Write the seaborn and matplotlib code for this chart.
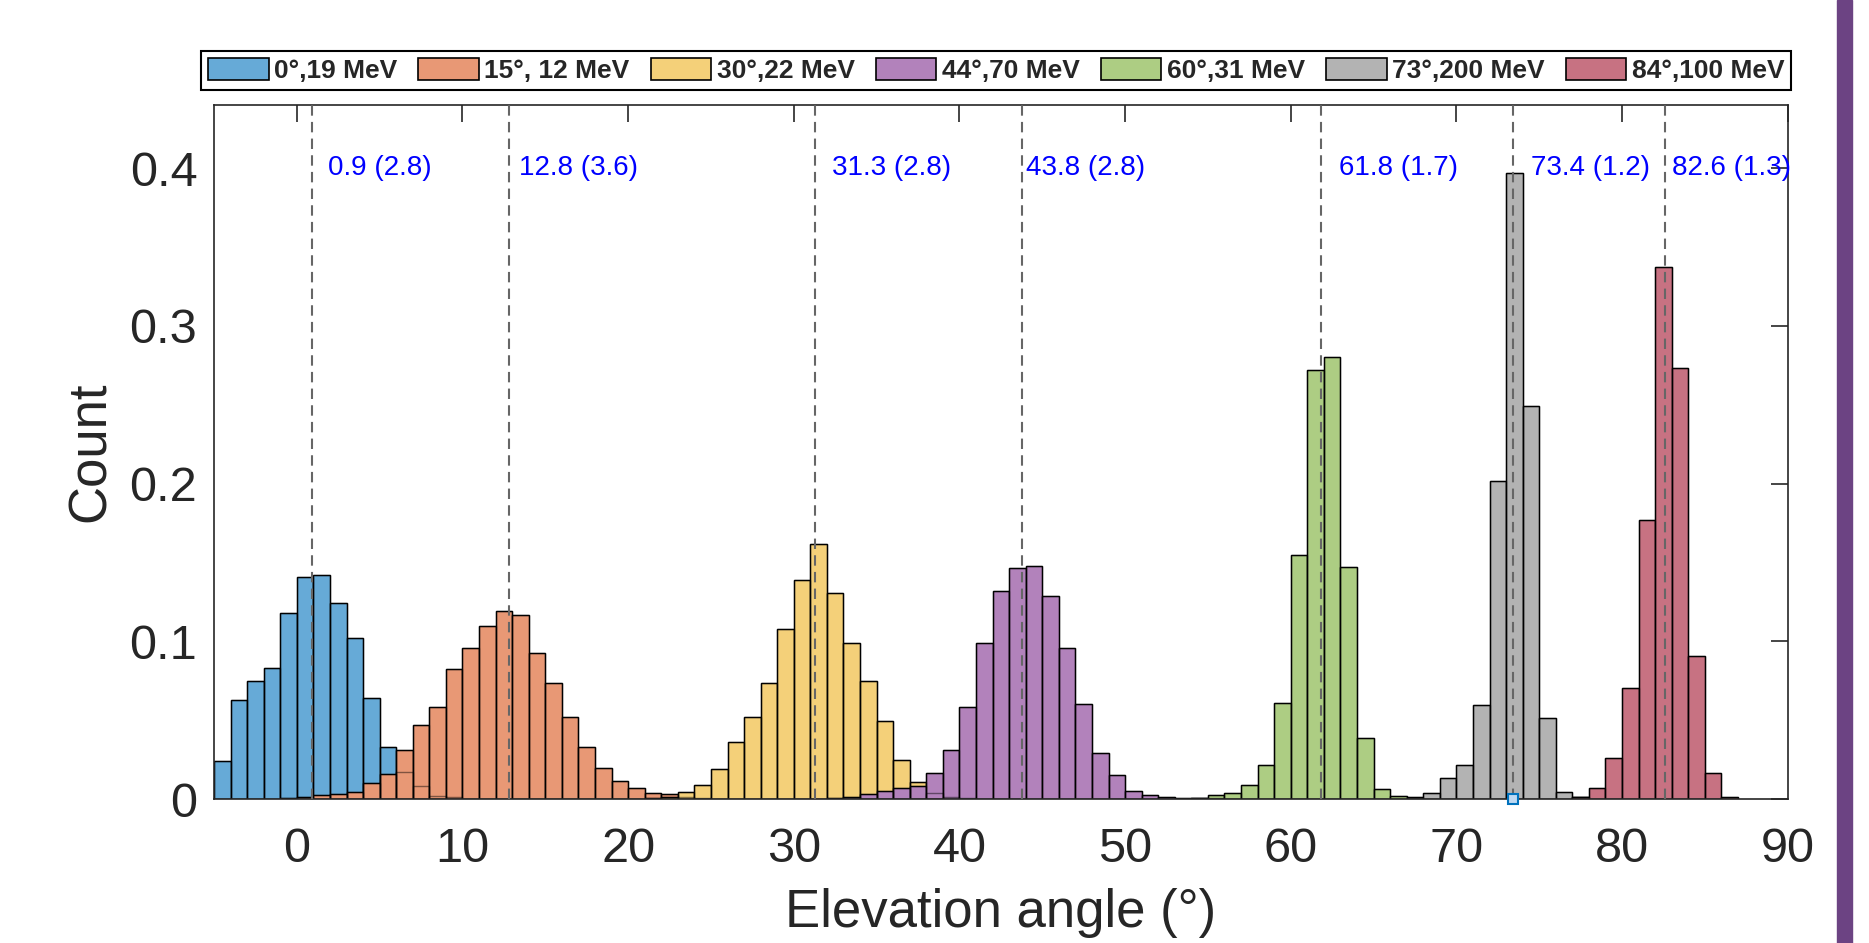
import numpy as np
import pandas as pd
import seaborn as sns
import matplotlib.pyplot as plt
from matplotlib.patches import Patch, Rectangle
from matplotlib.ticker import FuncFormatter

# bin heights (1 deg bins), first bin left edge given by *_start
blue_start = -5
blue = [0.024, 0.0625, 0.075, 0.083, 0.118, 0.141, 0.142, 0.124, 0.102, 0.064,
        0.033, 0.017, 0.008, 0.002, 0.001]
orange_start = -1
orange = [0.0005, 0.001, 0.0023, 0.003, 0.0044, 0.0099, 0.0157, 0.031, 0.047, 0.0585,
          0.0826, 0.0956, 0.1096, 0.1195, 0.1164, 0.0925, 0.0736, 0.0518, 0.0331, 0.0197,
          0.0113, 0.0067, 0.0038, 0.003, 0.0015, 0.0005]
yellow_start = 21
yellow = [0.0005, 0.0012, 0.0046, 0.0086, 0.0189, 0.036, 0.0518, 0.0738, 0.108, 0.139,
          0.1616, 0.1308, 0.0992, 0.075, 0.0497, 0.0247, 0.0105, 0.004, 0.0015, 0.0005]
purple_start = 32
purple = [0.0005, 0.0015, 0.003, 0.005, 0.0067, 0.008, 0.0166, 0.031, 0.0585, 0.0992,
          0.1317, 0.1465, 0.1474, 0.1285, 0.0956, 0.0604, 0.0293, 0.0151, 0.0052, 0.0023,
          0.001, 0.0008, 0.0006, 0.0004]
green_start = 54
green = [0.0008, 0.0023, 0.004, 0.0087, 0.0215, 0.0608, 0.1547, 0.2718, 0.28, 0.147,
         0.0384, 0.0064, 0.002, 0.0008]
gray_start = 67
gray = [0.001, 0.004, 0.013, 0.0215, 0.0593, 0.2015, 0.397, 0.249, 0.0515, 0.0047, 0.001]
red_start = 77
red = [0.001, 0.007, 0.0259, 0.0703, 0.177, 0.337, 0.273, 0.0907, 0.0166, 0.001]

legend_labels = ['0°,19 MeV', '15°, 12 MeV', '30°,22 MeV', '44°,70 MeV',
                 '60°,31 MeV', '73°,200 MeV', '84°,100 MeV']
means = [0.9, 12.8, 31.3, 43.8, 61.8, 73.4, 82.6]
stds = [2.8, 3.6, 2.8, 2.8, 1.7, 1.2, 1.3]
label_x = [1.9, 13.4, 32.3, 44.0, 62.9, 74.5, 83.0]

# matlab colours at FaceAlpha 0.6 on white
colors = ['#66aad7', '#e89875', '#f4d079', '#b282bb', '#adcd83', '#b3b3b3', '#c77282']

series = [(blue_start, blue), (orange_start, orange), (yellow_start, yellow),
          (purple_start, purple), (green_start, green), (gray_start, gray),
          (red_start, red)]

sns.set_style('white')
plt.rcParams['font.family'] = ['Liberation Sans', 'DejaVu Sans']

fig = plt.figure(figsize=(18.69, 9.43), dpi=100)
ax = fig.add_axes([0.1145, 0.1527, 0.842, 0.736])

frames = []
for (start, vals), col in zip(series, colors):
    n = len(vals)
    df = pd.DataFrame({'angle': np.arange(n) + start + 0.5, 'w': vals})
    frames.append((df, start, n))
    sns.histplot(data=df, x='angle', weights='w', binwidth=1,
                 binrange=(start, start + n), color=col, alpha=1,
                 edgecolor='black', linewidth=1.0, ax=ax)

# hidden bar outlines show faintly through the later series
for df, start, n in frames:
    sns.histplot(data=df, x='angle', weights='w', binwidth=1,
                 binrange=(start, start + n), fill=False,
                 color='black', alpha=0.45, linewidth=1.0, ax=ax)

for m, s, lx in zip(means, stds, label_x):
    ax.axvline(m, color=(0.4, 0.4, 0.4), lw=1.5, ls=(0, (5, 3)), zorder=5)
    ax.text(lx, 0.4, f'{m:.1f} ({s:.1f})', color='blue', fontsize=20,
            va='center', ha='left', zorder=6)

ax.plot([means[5]], [0], marker='s', ms=7, mfc=(0.75, 0.85, 0.95),
        mec=(0, 0.447, 0.741), mew=1.5, clip_on=False, zorder=7)

ax.set_xlim(-5, 90)
ax.set_ylim(0, 0.44)
ax.set_xticks(np.arange(0, 91, 10))
ax.set_yticks([0, 0.1, 0.2, 0.3, 0.4])
ax.yaxis.set_major_formatter(FuncFormatter(lambda v, p: '0' if v == 0 else f'{v:.1f}'))
ax.tick_params(direction='in', length=12, width=1.2, labelsize=35,
               top=True, right=True, colors=(0.15, 0.15, 0.15), pad=12)
ax.tick_params(axis='x', pad=20)
for sp in ax.spines.values():
    sp.set_linewidth(1.2)
    sp.set_color((0.15, 0.15, 0.15))
ax.set_xlabel('Elevation angle (°)', fontsize=38, color=(0.15, 0.15, 0.15), labelpad=12)
ax.set_ylabel('Count', fontsize=38, color=(0.15, 0.15, 0.15), labelpad=10)

handles = [Patch(facecolor=c, edgecolor='black', lw=1.2) for c in colors]
leg = ax.legend(handles, legend_labels, ncol=7, loc='lower center',
                bbox_to_anchor=(0.497, 1.022), borderaxespad=0,
                prop={'size': 19, 'weight': 'bold'}, frameon=True, fancybox=False,
                edgecolor='black', framealpha=1, handlelength=2.3, handleheight=0.9,
                handletextpad=0.2, columnspacing=0.8, borderpad=0.25)
leg.get_frame().set_linewidth(1.5)

fig.patches.append(Rectangle((0.9829, 0), 0.008, 1, transform=fig.transFigure,
                             color='#6c4383', zorder=10))

fig.savefig('out.png', dpi=100, facecolor='white')
